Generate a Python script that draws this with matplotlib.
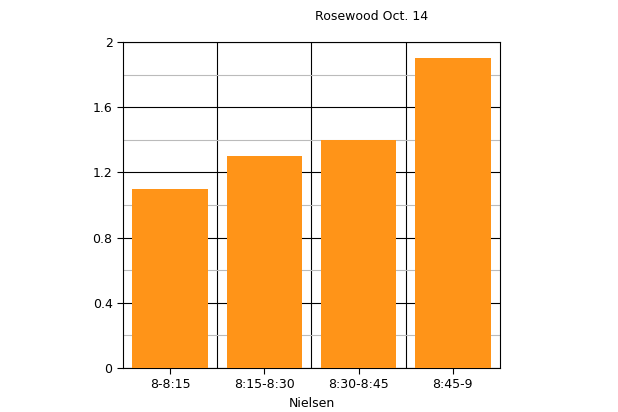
import matplotlib
matplotlib.use("Agg")
import matplotlib.pyplot as plt

categories = ["8-8:15", "8:15-8:30", "8:30-8:45", "8:45-9"]
values = [1.1, 1.3, 1.4, 1.9]

fig = plt.figure(figsize=(6.18, 4.12), dpi=100)
ax = fig.add_axes([0.199, 0.107, 0.61, 0.791])
x = range(len(categories))
ax.bar(x, values, width=0.8, color="#FF9418", zorder=3)
ax.set_xlim(-0.5, len(categories) - 0.5)
ax.set_ylim(0, 2)
ax.set_yticks([0, 0.4, 0.8, 1.2, 1.6, 2])
ax.set_yticklabels(["0", "0.4", "0.8", "1.2", "1.6", "2"])
ax.set_yticks([0.2, 0.6, 1.0, 1.4, 1.8], minor=True)
ax.set_xticks(list(x))
ax.set_xticklabels(categories)
ax.set_xticks([0.5, 1.5, 2.5], minor=True)
ax.grid(which="major", axis="y", color="black", linewidth=0.8, zorder=1)
ax.grid(which="minor", axis="y", color="#BBBBBB", linewidth=0.8, zorder=1)
ax.grid(which="minor", axis="x", color="black", linewidth=0.8, zorder=1)
ax.tick_params(which="minor", length=0)
ax.tick_params(which="major", length=4, labelsize=9)
for s in ax.spines.values():
    s.set_linewidth(0.8)
ax.set_xlabel("Nielsen", fontsize=9)
ax.set_title("Rosewood Oct. 14", fontsize=9, x=0.66, pad=16)
fig.savefig("out.png", dpi=100)
